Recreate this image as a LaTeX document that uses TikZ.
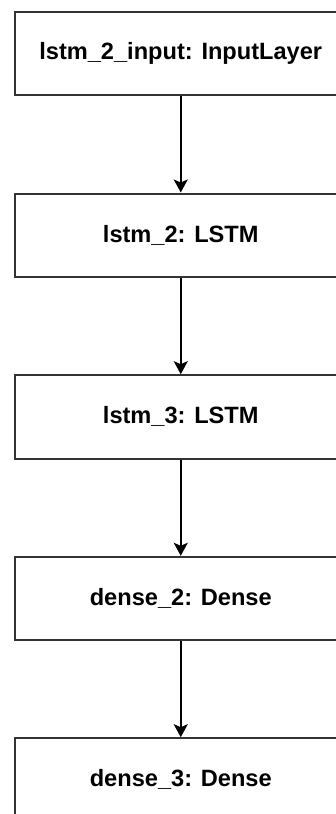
\documentclass[tikz,border=0pt]{standalone}
\usepackage{fontspec}
\setmainfont{Liberation Sans}
\usetikzlibrary{arrows.meta}
\begin{document}
\begin{tikzpicture}[x=1pt,y=-1pt,
  layer/.style={draw=black!80, line width=2pt, minimum width=331.5pt, minimum height=83.3pt, inner sep=0pt, font=\fontsize{23.6}{28}\selectfont\bfseries, anchor=north west},
  conn/.style={line width=1.8pt, -{Stealth[width=14pt,length=13pt,inset=3pt]}}]
\useasboundingbox (0,0) rectangle (335,814);
\node[layer] (n1) at (14,10.7) {lstm\_2\_input: InputLayer};
\node[layer] (n2) at (14,192.5) {lstm\_2: LSTM};
\node[layer] (n3) at (14,374.2) {lstm\_3: LSTM};
\node[layer] (n4) at (14,555.8) {dense\_2: Dense};
\node[layer] (n5) at (14,737.2) {dense\_3: Dense};
\draw[conn] (n1.south) -- (n2.north);
\draw[conn] (n2.south) -- (n3.north);
\draw[conn] (n3.south) -- (n4.north);
\draw[conn] (n4.south) -- (n5.north);
\end{tikzpicture}
\end{document}
